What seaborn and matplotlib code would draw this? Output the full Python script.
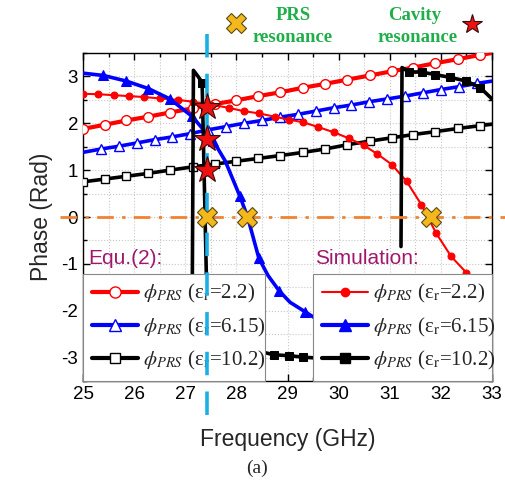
import matplotlib
matplotlib.use("Agg")
import matplotlib.pyplot as plt
import seaborn as sns
import numpy as np
import pandas as pd
from matplotlib.lines import Line2D
from matplotlib.ticker import MultipleLocator

# ---------------- data ----------------
# Equ.(2) curves
freq_eq_a = [25.0, 25.43, 25.85, 26.27, 26.7, 27.15, 27.58, 28.0, 28.43, 28.85,
             29.31, 29.73, 30.16, 30.61, 31.04, 31.46, 31.88, 32.34, 32.77, 33.0]
eq_er22 = [1.88, 1.97, 2.06, 2.14, 2.23, 2.32, 2.41, 2.49, 2.58, 2.66,
           2.76, 2.84, 2.93, 3.02, 3.11, 3.19, 3.28, 3.37, 3.46, 3.50]
eq_er102 = [0.75, 0.81, 0.87, 0.93, 1.00, 1.07, 1.13, 1.19, 1.25, 1.31,
            1.38, 1.45, 1.54, 1.62, 1.69, 1.76, 1.82, 1.89, 1.95, 1.98]
freq_eq_b = [25.0, 25.35, 25.7, 26.05, 26.4, 26.75, 27.1, 27.45, 27.8, 28.15,
             28.5, 28.85, 29.2, 29.55, 29.9, 30.25, 30.6, 30.95, 31.3, 31.65,
             32.0, 32.35, 32.7, 33.0]
eq_er615 = [1.38, 1.45, 1.51, 1.58, 1.65, 1.71, 1.78, 1.86, 1.93, 2.0,
            2.06, 2.13, 2.19, 2.26, 2.33, 2.39, 2.46, 2.52, 2.58, 2.65,
            2.72, 2.78, 2.85, 2.90]

# Simulation curves
freq_sim_22 = [25.0, 25.3, 25.6, 25.9, 26.2, 26.5, 26.85, 27.15, 27.5, 27.85,
               28.14, 28.45, 28.75, 29.02, 29.31, 29.6, 29.9, 30.2, 30.49, 30.75,
               31.04, 31.33, 31.62, 31.91, 32.2, 32.5, 32.8]
sim_er22 = [2.63, 2.62, 2.60, 2.58, 2.56, 2.53, 2.50, 2.46, 2.40, 2.33,
            2.26, 2.21, 2.14, 2.08, 2.02, 1.92, 1.81, 1.68, 1.53, 1.35,
            1.12, 0.76, 0.26, -0.35, -0.84, -1.19, -1.60]
freq_sim_615 = [25.0, 25.4, 25.85, 26.28, 26.7, 27.13, 27.55, 27.78, 28.07, 28.22,
                28.44, 28.62, 28.84, 29.05, 29.34, 29.6, 30.2]
sim_er615 = [3.07, 3.02, 2.90, 2.74, 2.52, 2.15, 1.62, 1.20, 0.44, 0.0,
             -0.88, -1.25, -1.58, -1.82, -2.02, -2.20, -2.45]
freq_sim_102_a = [25.0, 26.0, 27.0, 27.13, 27.16, 27.25, 27.33, 27.42, 27.6, 28.2,
                  28.73, 29.03, 29.3, 29.7, 30.5, 31.2]
sim_er102_a = [-2.70, -2.90, -3.08, -3.12, 3.13, 3.00, 2.87, -1.60, -2.40, -2.80,
               -2.94, -2.96, -2.99, -3.02, -3.06, -3.10]
freq_sim_102_b = [31.22, 31.24, 31.37, 31.63, 31.89, 32.18, 32.5, 32.77, 33.0]
sim_er102_b = [-0.63, 3.19, 3.10, 3.09, 3.04, 2.98, 2.90, 2.76, 2.52]

# markers
prs_res_freq = [27.42, 28.2, 31.8]
prs_res_phase = [0.0, 0.0, 0.0]
cav_res_freq = [27.42, 27.42, 27.42]
cav_res_phase = [2.34, 1.66, 1.0]
design_freq = 27.42

labels_eq = [r"$\phi_{PRS}$ (ε$_{\mathrm{r}}$=2.2)",
             r"$\phi_{PRS}$ (ε$_{\mathrm{r}}$=6.15)",
             r"$\phi_{PRS}$ (ε$_{\mathrm{r}}$=10.2)"]
labels_sim = labels_eq

# ---------------- style ----------------
sns.set_theme(style="ticks")
plt.rcParams.update({
    "font.family": ["Liberation Sans", "DejaVu Sans"],
    "mathtext.fontset": "stix",
    "axes.unicode_minus": False,
    "axes.edgecolor": "black",
    "axes.linewidth": 1.0,
})

W, H = 505, 482
fig = plt.figure(figsize=(W / 100, H / 100), dpi=100)
L, R, T, B = 83, 492, 53, 381
ax = fig.add_axes([L / W, 1 - B / H, (R - L) / W, (B - T) / H])
ax.set_xlim(25, 33)
ax.set_ylim(-3.5, 3.5)

RED, BLUE, BLACK = "#ff0000", "#0000ff", "#000000"

# Equ curves
sns.lineplot(x=freq_eq_a, y=eq_er22, ax=ax, sort=False, estimator=None, color=RED, lw=3,
             marker="o", ms=7, mfc="white", mec=RED, mew=1.0, markevery=list(range(19)), zorder=3)
sns.lineplot(x=freq_eq_b, y=eq_er615, ax=ax, sort=False, estimator=None, color=BLUE, lw=2.6,
             marker="^", ms=7, mfc="white", mec=BLUE, mew=1.0, markevery=list(range(1, 23)), zorder=3)
sns.lineplot(x=freq_eq_a, y=eq_er102, ax=ax, sort=False, estimator=None, color=BLACK, lw=2.6,
             marker="s", ms=6, mfc="white", mec=BLACK, mew=1.0, markevery=list(range(19)), zorder=3)

# Simulation curves
sns.lineplot(x=freq_sim_22, y=sim_er22, ax=ax, sort=False, estimator=None, color=RED, lw=1.5,
             marker="o", ms=5, mfc=RED, mec=RED, zorder=3)
sns.lineplot(x=freq_sim_615, y=sim_er615, ax=ax, sort=False, estimator=None, color=BLUE, lw=2.6,
             marker="^", ms=6.5, mfc=BLUE, mec=BLUE, markevery=[1, 2, 3, 4, 5, 6, 8, 10, 12, 14], zorder=3)
sns.lineplot(x=freq_sim_102_a, y=sim_er102_a, ax=ax, sort=False, estimator=None, color=BLACK, lw=2.6,
             marker="s", ms=6, mfc=BLACK, mec=BLACK, markevery=[6, 10, 11, 12], zorder=3)
sns.lineplot(x=freq_sim_102_b, y=sim_er102_b, ax=ax, sort=False, estimator=None, color=BLACK, lw=2.6,
             marker="s", ms=6, mfc=BLACK, mec=BLACK, markevery=[2, 3, 4, 5, 6, 7], zorder=3)

# reference lines
ax.plot([24.55, 33.3], [0, 0], color="#f08232", lw=2.0, ls=(0, (6, 3, 1.2, 3)),
        clip_on=False, zorder=4)
ax.plot([design_freq, design_freq], [3.9, -4.5], color="#1ab0e6", lw=2.6, ls=(0, (6.5, 4.5)),
        clip_on=False, zorder=8)

# resonance markers
ax.plot(prs_res_freq, prs_res_phase, ls="none", marker="X", ms=15, mfc="#f5b81c",
        mec="#5a4a10", mew=0.8, zorder=9)
ax.plot(cav_res_freq, cav_res_phase, ls="none", marker="*", ms=20, mfc="#ee1111",
        mec="#3a0a0a", mew=0.8, zorder=9)
# key symbols above the axes
ax.plot([27.99], [4.15], ls="none", marker="X", ms=15, mfc="#f5b81c", mec="#5a4a10",
        mew=0.8, clip_on=False, zorder=9)
ax.plot([32.61], [4.11], ls="none", marker="*", ms=15, mfc="#ee1111", mec="#3a0a0a",
        mew=0.8, clip_on=False, zorder=9)

# axes styling
ax.xaxis.set_major_locator(MultipleLocator(1))
ax.xaxis.set_minor_locator(MultipleLocator(0.5))
ax.yaxis.set_major_locator(MultipleLocator(1))
ax.yaxis.set_minor_locator(MultipleLocator(0.5))
ax.grid(which="both", color="#c8c8c8", ls=":", lw=0.8)
ax.set_axisbelow(True)
ax.tick_params(which="both", direction="in", top=True, right=True, colors="black",
               labelsize=13.5, width=1.0)
ax.tick_params(which="major", length=5)
ax.tick_params(which="minor", length=3)
for s in ax.spines.values():
    s.set_color("black")
    s.set_linewidth(1.0)
ax.set_xlabel("Frequency (GHz)", fontsize=16.5, labelpad=18)
ax.set_ylabel("Phase (Rad)", fontsize=16.5, labelpad=6)

# legends
serif = {"family": ["Liberation Serif", "DejaVu Serif"], "size": 15}
h_eq = [Line2D([], [], color=RED, lw=3, marker="o", ms=8, mfc="white", mec=RED),
        Line2D([], [], color=BLUE, lw=3, marker="^", ms=8, mfc="white", mec=BLUE),
        Line2D([], [], color=BLACK, lw=3, marker="s", ms=7, mfc="white", mec=BLACK)]
h_sim = [Line2D([], [], color=RED, lw=1.5, marker="o", ms=6, mfc=RED, mec=RED),
         Line2D([], [], color=BLUE, lw=3, marker="^", ms=8, mfc=BLUE, mec=BLUE),
         Line2D([], [], color=BLACK, lw=3, marker="s", ms=7, mfc=BLACK, mec=BLACK)]
common = dict(loc="lower left", mode="expand", borderaxespad=0, prop=serif,
              fancybox=False, framealpha=1, edgecolor="#888888", handlelength=2.2,
              handletextpad=0.25, labelspacing=0.5, borderpad=0.42)
leg1 = ax.legend(h_eq, labels_eq, bbox_to_anchor=(0, 0, (265 - L) / (R - L), 0.3), **common)
leg1.get_frame().set_linewidth(0.8)
leg1.set_zorder(6)
ax.add_artist(leg1)
leg2 = ax.legend(h_sim, labels_sim, bbox_to_anchor=((313 - L) / (R - L), 0, 1 - (313 - L) / (R - L), 0.3),
                 **common)
leg2.get_frame().set_linewidth(0.8)
leg2.set_zorder(6)

PURPLE = "#a0186e"
fig.text(88 / W, 1 - 258 / H, "Equ.(2):", color=PURPLE, fontsize=15, ha="left", va="center")
fig.text(315 / W, 1 - 258 / H, "Simulation:", color=PURPLE, fontsize=15, ha="left", va="center")

GREEN = "#1fae4a"
tfont = dict(family=["Liberation Serif", "DejaVu Serif"], fontsize=13.5, fontweight="bold",
             color=GREEN, ha="center", va="center")
fig.text(293 / W, 1 - 15 / H, "PRS", **tfont)
fig.text(293 / W, 1 - 38 / H, "resonance", **tfont)
fig.text(415 / W, 1 - 15 / H, "Cavity", **tfont)
fig.text(418 / W, 1 - 38 / H, "resonance", **tfont)
fig.text(257 / W, 1 - 468 / H, "(a)", family=["Liberation Serif", "DejaVu Serif"],
         fontsize=14, ha="center", va="center")

fig.savefig("out.png", dpi=100)
